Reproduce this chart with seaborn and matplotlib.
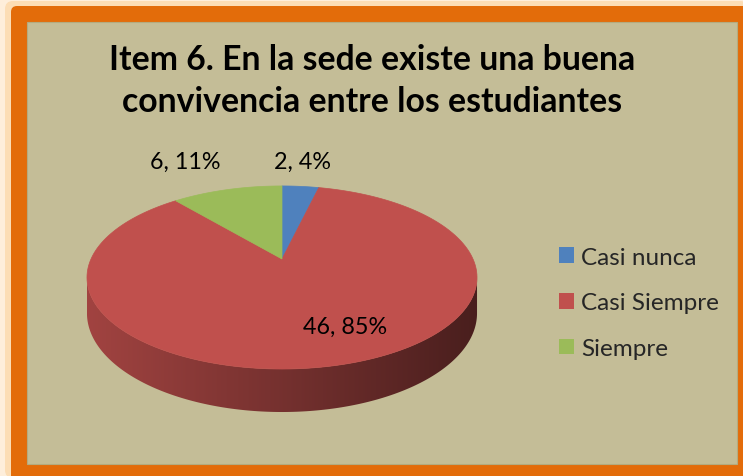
import matplotlib.pyplot as plt
import numpy as np
import seaborn as sns
from matplotlib.colors import to_rgb
from matplotlib.patches import FancyBboxPatch, Polygon, Rectangle

# chart data
categories = ["Casi nunca", "Casi Siempre", "Siempre"]
counts = [2, 46, 6]
slice_colors = ["#4F81BD", "#C0504D", "#9BBB59"]
title_text = "Item 6. En la sede existe una buena\nconvivencia entre los estudiantes"

# label placement per slice: radius factor, x nudge, y nudge (pixels)
label_place = [(1.45, -4, 0), (0.72, 26, -4), (1.45, -22, -4)]

sns.set_theme(style="white")
plt.rcParams["font.family"] = ["Lato", "DejaVu Sans"]

W, H = 743, 477
fig = plt.figure(figsize=(W / 100, H / 100), dpi=100)
fig.patch.set_facecolor("#FEEEDB")
ax = fig.add_axes([0, 0, 1, 1])
ax.set_xlim(0, W)
ax.set_ylim(H, 0)
ax.axis("off")

# frame: soft glow, orange border, beige plot area
ax.add_patch(FancyBboxPatch((5, 2), W, H, boxstyle="round,pad=0,rounding_size=8",
                            facecolor="#FCDDB5", edgecolor="none"))
ax.add_patch(FancyBboxPatch((11, 7), W, H, boxstyle="round,pad=0,rounding_size=6",
                            facecolor="#E36C0A", edgecolor="none"))
ax.add_patch(Rectangle((27, 23), 710, 442, facecolor="#C4BD97",
                       edgecolor="#B3AB80", linewidth=0.8))

# perspective projection of a tilted disc
cx, cy = 282, 260
R, S, k, D = 191, 87.8, 0.202, 34.3


def proj(theta, r=1.0, drop=0.0):
    u = r * np.cos(theta)
    v = r * np.sin(theta)
    w = 1 + k * v
    return cx + R * u / w, cy - S * v / w + D * drop / w


total = sum(counts)
fracs = np.array(counts) / total
cum = np.concatenate([[0], np.cumsum(fracs)])
starts = np.deg2rad(90 - 360 * cum[:-1])
ends = np.deg2rad(90 - 360 * cum[1:])

# side wall (visible front half), shaded from left to right
t_left = np.pi + np.arcsin(k)
t_right = 2 * np.pi - np.arcsin(k)
x_min, _ = proj(t_left)
x_max, _ = proj(t_right)
gx = np.linspace(0, 1, 400)
shade = 0.84 - 0.46 * gx
for i, (t0, t1) in enumerate(zip(starts, ends)):
    # slice runs clockwise: angles decrease from t0 to t1; bring into side range
    lo, hi = min(t0, t1), max(t0, t1)
    seg_lo, seg_hi = None, None
    for off in (-2 * np.pi, 0, 2 * np.pi):
        a, b = max(lo + off, t_left), min(hi + off, t_right)
        if a < b:
            seg_lo, seg_hi = a, b
    if seg_lo is None:
        continue
    ts = np.linspace(seg_lo, seg_hi, 200)
    top = [proj(t) for t in ts]
    bottom = [proj(t, drop=1) for t in ts[::-1]]
    side = Polygon(top + bottom, closed=True, facecolor="none", edgecolor="none")
    ax.add_patch(side)
    base = np.array(to_rgb(slice_colors[i]))
    grad = (shade[:, None] * base[None, :])[None, :, :]
    ys = [p[1] for p in top + bottom]
    im = ax.imshow(grad, extent=(x_min, x_max, max(ys) + 2, min(ys) - 2),
                   aspect="auto", interpolation="bilinear", zorder=1)
    im.set_clip_path(side)

# top face wedges
handles = []
for i, (t0, t1) in enumerate(zip(starts, ends)):
    arc = np.linspace(t0, t1, 200)
    pts = [(cx, cy)] + [proj(t) for t in arc]
    ax.add_patch(Polygon(pts, closed=True, facecolor=slice_colors[i],
                         edgecolor=slice_colors[i], linewidth=0.5, zorder=2))
    handles.append(Rectangle((0, 0), 1, 1, facecolor=slice_colors[i],
                             edgecolor="none", label=categories[i]))

ax.set_xlim(0, W)
ax.set_ylim(H, 0)

# data labels
for i, (t0, t1) in enumerate(zip(starts, ends)):
    r, dx, dy = label_place[i]
    lx, ly = proj((t0 + t1) / 2, r=r)
    pct = round(100 * fracs[i])
    ax.text(lx + dx, ly + dy, f"{counts[i]}, {pct}%", fontsize=16.8,
            ha="center", va="center", color="black", zorder=3)

# title
ax.text(372, 81, title_text, fontsize=24.3, fontweight="bold", ha="center",
        va="center", linespacing=1.42, color="black")

# legend
ax.legend(handles=handles, loc="center left",
          bbox_to_anchor=(547 / W, 1 - 304 / H), frameon=False,
          fontsize=17.5, handlelength=0.6, handleheight=0.6,
          handletextpad=0.3, labelspacing=1.02, borderpad=0)

fig.savefig("out.png", dpi=100, facecolor=fig.get_facecolor())
